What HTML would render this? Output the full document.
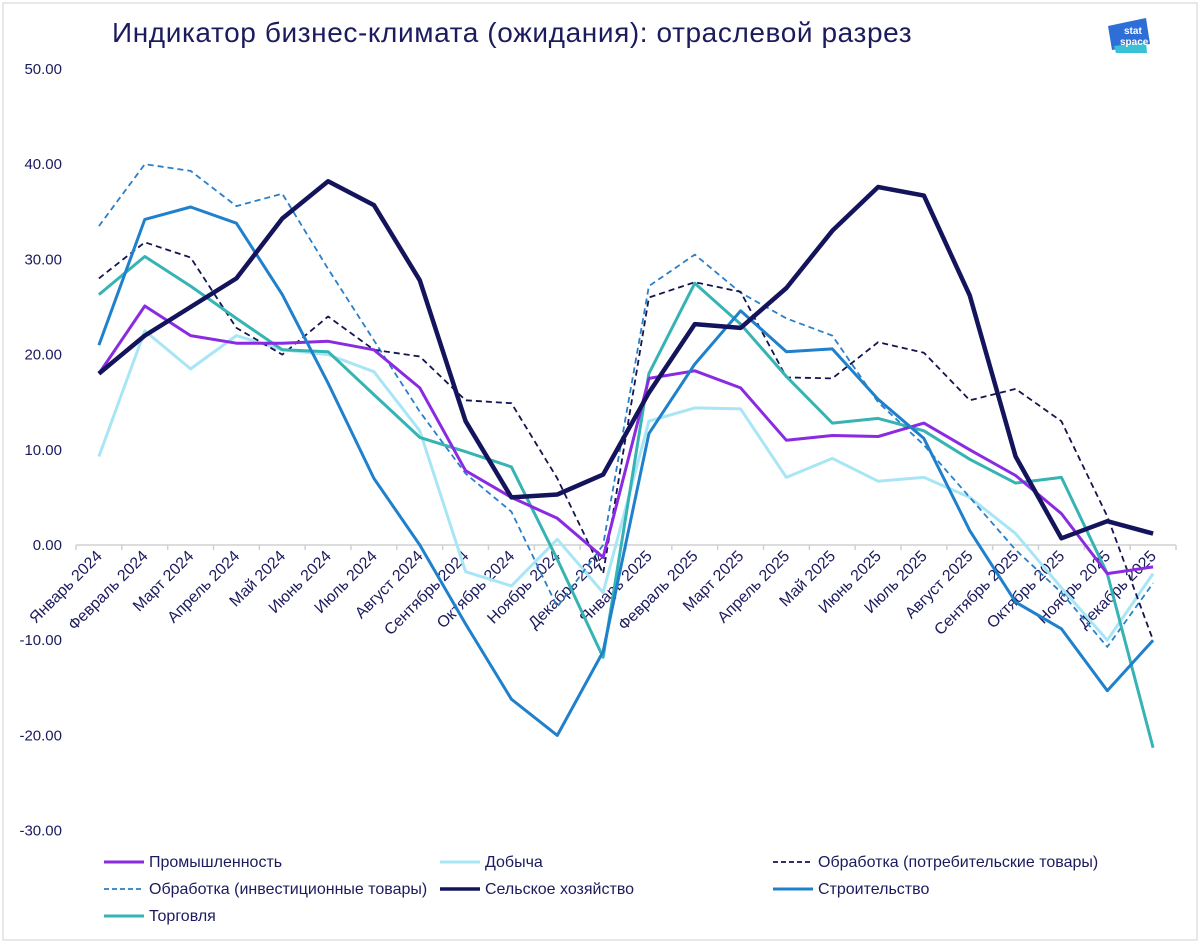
<!DOCTYPE html>
<html><head><meta charset="utf-8"><style>
body{margin:0;background:#fff;}
svg text{font-family:"Liberation Sans",sans-serif;}
</style></head><body>
<svg width="1200" height="943" viewBox="0 0 1200 943">
<rect x="3" y="3" width="1194" height="937" fill="#fff" stroke="#d0d0d0"/>
<text x="112" y="42" font-size="28" letter-spacing="0.6" fill="#1b1b5e">Индикатор бизнес-климата (ожидания): отраслевой разрез</text>
<g>
<path d="M1108 26 L1146 18 L1150 44 L1112 50 Z" fill="#2d6fd6"/>
<path d="M1114 46 L1146 42 L1147 53 L1116 53 Z" fill="#39c1d6"/>
<text x="1124" y="34" font-size="10" fill="#fff" font-weight="bold">stat</text>
<text x="1120" y="45" font-size="10" fill="#fff" font-weight="bold">space</text>
</g>
<g id="yaxis"></g>
<g id="xaxis"></g>
<g id="series"></g>
<g id="legend"></g>
</svg>
<script>
const months=["Январь 2024","Февраль 2024","Март 2024","Апрель 2024","Май 2024","Июнь 2024","Июль 2024","Август 2024","Сентябрь 2024","Октябрь 2024","Ноябрь 2024","Декабрь 2024","Январь 2025","Февраль 2025","Март 2025","Апрель 2025","Май 2025","Июнь 2025","Июль 2025","Август 2025","Сентябрь 2025","Октябрь 2025","Ноябрь 2025","Декабрь 2025"];
const yTicks=[50,40,30,20,10,0,-10,-20,-30];
const promyshlennost=[18,25.1,22,21.2,21.2,21.4,20.5,16.5,7.8,5,2.8,-1.3,17.5,18.3,16.5,11,11.5,11.4,12.8,10,7.3,3.3,-3,-2.3];
const dobycha=[9.3,22.5,18.5,22,20.5,20,18.2,12,-2.8,-4.3,0.6,-5,13,14.4,14.3,7.1,9.1,6.7,7.1,5,1.2,-4.5,-10,-3];
const obrPotreb=[28,31.8,30.2,22.8,20,24,20.5,19.8,15.2,14.9,7,-3,26,27.6,26.6,17.6,17.5,21.3,20.2,15.2,16.4,13,3,-10];
const obrInvest=[33.5,40,39.3,35.6,36.9,29,21.5,14,7.5,3.5,-6.5,0,27.2,30.5,26.5,23.8,22,15,10.5,5,-0.5,-5,-10.7,-4];
const selkhoz=[18,22,25,28,34.3,38.2,35.7,27.8,13,5,5.3,7.4,16,23.2,22.8,27,33,37.6,36.7,26.2,9.3,0.7,2.5,1.2];
const stroitelstvo=[21,34.2,35.5,33.8,26.3,17,7,0,-8.3,-16.2,-20,-11.2,11.7,19,24.6,20.3,20.6,15.3,11.2,1.5,-6,-8.8,-15.3,-10];
const torgovlya=[26.3,30.3,27.2,23.8,20.5,20.3,15.8,11.3,9.8,8.2,-1.5,-11.8,18,27.5,23.2,17.7,12.8,13.3,12,9,6.5,7.1,-3,-21.3];

const NS="http://www.w3.org/2000/svg";
const x0=76,x1=1176,n=months.length,step=(x1-x0)/n;
function X(i){return x0+step*(i+0.5);}
function Y(v){return 545-v*9.52;}
function mk(t,a,p){const e=document.createElementNS(NS,t);for(const k in a)e.setAttribute(k,a[k]);p.appendChild(e);return e;}

const ya=document.getElementById('yaxis');
yTicks.forEach(v=>{
 const t=mk('text',{x:62,y:Y(v)+5,'text-anchor':'end','font-size':15,fill:'#1b1b5e'},ya);
 
 
 t.textContent=v.toFixed(2);
});
const xa=document.getElementById('xaxis');
const axl=mk('line',{x1:x0,x2:x1,y1:Y(0),y2:Y(0),stroke:'#d0d0d0','stroke-width':1.5},xa);


for(let i=0;i<=n;i++){
 const tk=mk('line',{x1:x0+step*i,x2:x0+step*i,y1:Y(0),y2:Y(0)+5,stroke:'#d0d0d0','stroke-width':1.5},xa);
 
 
}
months.forEach((m,i)=>{
 const cx=X(i)+4,cy=557;
 const t=mk('text',{x:cx,y:cy,'text-anchor':'end','font-size':16,fill:'#1b1b5e',transform:`rotate(-45 ${cx} ${cy})`},xa);
 
 
 t.textContent=m;
});

const series=[
 {name:"Промышленность",data:promyshlennost,color:"#8a2be2",w:3,dash:null,id:'series-promyshlennost'},
 {name:"Добыча",data:dobycha,color:"#a8e6f5",w:3,dash:null,id:'series-dobycha'},
 {name:"Обработка (потребительские товары)",data:obrPotreb,color:"#14144f",w:1.8,dash:"6,4",id:'series-obrabotka-potreb'},
 {name:"Обработка (инвестиционные товары)",data:obrInvest,color:"#2a7fc9",w:1.8,dash:"6,4",id:'series-obrabotka-invest'},
 {name:"Сельское хозяйство",data:selkhoz,color:"#14145c",w:4.5,dash:null,id:'series-selkhoz'},
 {name:"Строительство",data:stroitelstvo,color:"#1f80cc",w:3,dash:null,id:'series-stroitelstvo'},
 {name:"Торговля",data:torgovlya,color:"#36b3b3",w:3,dash:null,id:'series-torgovlya'}
];
const sg=document.getElementById('series');
const order=[1,3,2,6,0,5,4];
order.forEach(k=>{
 const s=series[k];
 const d=s.data.map((v,i)=>(i?'L':'M')+X(i).toFixed(1)+' '+Y(v).toFixed(1)).join(' ');
 const p=mk('path',{d:d,fill:'none',stroke:s.color,'stroke-width':s.w,'stroke-linejoin':'round'},sg);
 if(s.dash)p.setAttribute('stroke-dasharray',s.dash);
 
 
});
const lg=document.getElementById('legend');
const lpos=[[104,862],[440,862],[773,862],[104,889],[440,889],[773,889],[104,916]];
series.forEach((s,k)=>{
 const [lx,ly]=lpos[k];
 const g=mk('g',{},lg);
 
 
 const l=mk('line',{x1:lx,x2:lx+40,y1:ly,y2:ly,stroke:s.color,'stroke-width':Math.min(s.w,3.5)},g);
 if(s.dash)l.setAttribute('stroke-dasharray','5,3');
 const t=mk('text',{x:lx+45,y:ly+5,'font-size':16,fill:'#1b1b5e'},g);
 t.textContent=s.name;
});
</script>
</body></html>
